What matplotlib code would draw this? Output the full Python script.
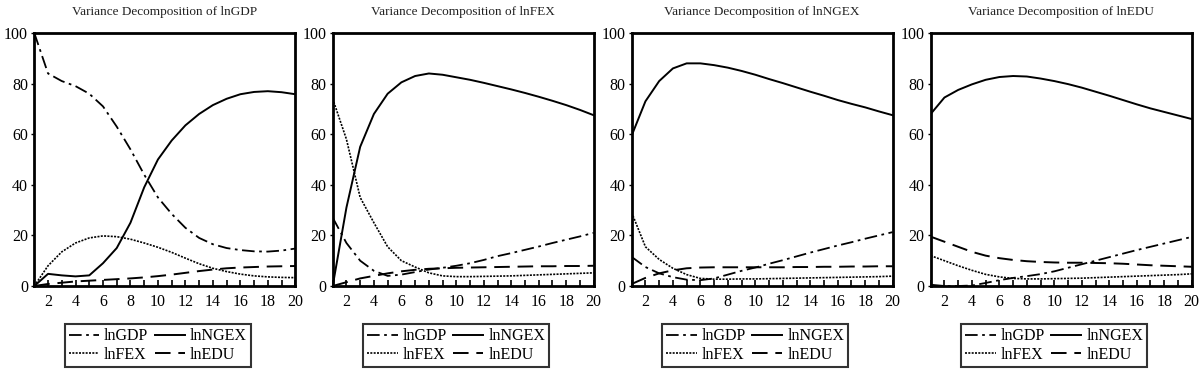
import matplotlib
matplotlib.use("Agg")
import matplotlib.pyplot as plt
from matplotlib.ticker import MultipleLocator

plt.rcParams['font.family'] = ['Liberation Serif', 'DejaVu Serif']

periods = list(range(1, 21))
series_names = ["lnGDP", "lnNGEX", "lnFEX", "lnEDU"]
panel_titles = ["Variance Decomposition of lnGDP", "Variance Decomposition of lnFEX",
                "Variance Decomposition of lnNGEX", "Variance Decomposition of lnEDU"]

# Panel 1: lnGDP
p1_gdp = [100, 84, 81, 79, 76, 71, 63, 54, 44, 35, 28.5, 23, 19, 16.5, 15, 14.2, 13.7, 13.6, 14, 14.8]
p1_ngex = [0, 4.8, 4.2, 3.8, 4.2, 9, 15, 25, 39, 50, 57.5, 63.5, 68, 71.5, 74, 75.8, 76.7, 77, 76.6, 75.8]
p1_fex = [0, 8, 13.5, 17, 19, 19.8, 19.5, 18.5, 17, 15.3, 13.3, 11, 8.8, 7, 5.7, 4.7, 4, 3.6, 3.4, 3.3]
p1_edu = [0, 0.8, 1.3, 1.8, 2.1, 2.4, 2.7, 3, 3.4, 3.9, 4.5, 5.2, 5.9, 6.5, 7, 7.3, 7.5, 7.7, 7.8, 7.9]

# Panel 2: lnFEX
p2_gdp = [27, 17, 10, 6, 4, 4.5, 5.5, 6.5, 7.2, 8, 9, 10.3, 11.8, 13, 14.3, 15.6, 17, 18.3, 19.6, 21]
p2_ngex = [0, 31, 55, 68, 76, 80.5, 83, 84, 83.5, 82.5, 81.5, 80.3, 79, 77.7, 76.3, 74.8, 73.2, 71.5, 69.6, 67.5]
p2_fex = [74, 58, 35, 25, 15.5, 10, 7.5, 5.2, 4, 3.7, 3.7, 3.8, 3.9, 4, 4.2, 4.4, 4.6, 4.8, 5, 5.2]
p2_edu = [0, 1.5, 3, 4, 5, 5.8, 6.4, 6.8, 7, 7.2, 7.3, 7.4, 7.5, 7.6, 7.7, 7.8, 7.8, 7.9, 7.9, 8]

# Panel 3: lnNGEX
p3_gdp = [11.5, 7.5, 5, 3.5, 2.5, 2.3, 3, 4.5, 6, 7.3, 8.8, 10.2, 11.7, 13.2, 14.6, 16, 17.3, 18.7, 20, 21.3]
p3_ngex = [59.5, 73, 81, 86, 88, 88, 87.3, 86.3, 85, 83.5, 81.8, 80.2, 78.5, 76.8, 75.2, 73.5, 72, 70.6, 69, 67.5]
p3_fex = [29, 15.5, 10.5, 7, 4.5, 3, 2.7, 2.7, 2.8, 2.8, 2.9, 3, 3.1, 3.2, 3.3, 3.4, 3.5, 3.6, 3.7, 3.9]
p3_edu = [0.8, 3.2, 5, 6.2, 7, 7.3, 7.4, 7.4, 7.4, 7.4, 7.4, 7.4, 7.5, 7.5, 7.6, 7.6, 7.7, 7.7, 7.8, 7.8]

# Panel 4: lnEDU
p4_gdp = [0.5, 0, 0, 0.2, 1.2, 2.3, 3.2, 3.9, 4.7, 5.8, 7.2, 8.6, 10, 11.4, 12.8, 14.2, 15.5, 16.8, 18.1, 19.4]
p4_ngex = [68, 74.5, 77.5, 79.7, 81.5, 82.6, 83, 82.8, 82, 81, 79.8, 78.4, 76.8, 75.2, 73.5, 71.8, 70.2, 68.8, 67.4, 66]
p4_fex = [12, 10, 8, 6.2, 4.6, 3.6, 3, 2.8, 2.8, 2.9, 3, 3.1, 3.3, 3.5, 3.7, 3.9, 4.1, 4.3, 4.5, 4.8]
p4_edu = [19.5, 17.5, 15.5, 13.5, 12, 11, 10.3, 9.8, 9.5, 9.3, 9.2, 9.2, 9.1, 9, 8.8, 8.5, 8.2, 8, 7.8, 7.6]

panels = [
    (p1_gdp, p1_ngex, p1_fex, p1_edu),
    (p2_gdp, p2_ngex, p2_fex, p2_edu),
    (p3_gdp, p3_ngex, p3_fex, p3_edu),
    (p4_gdp, p4_ngex, p4_fex, p4_edu),
]

styles = {
    "lnGDP": dict(linestyle=(0, (7, 2.5, 1.5, 2.5)), linewidth=1.3),
    "lnNGEX": dict(linestyle='-', linewidth=1.4),
    "lnFEX": dict(linestyle=(0, (1.2, 0.8)), linewidth=1.2),
    "lnEDU": dict(linestyle=(0, (8, 4)), linewidth=1.4),
}

fig = plt.figure(figsize=(12, 3.71), dpi=100)
lefts = [34.3, 332.7, 631.7, 930.7]
W, H = 1200.0, 371.0
for i, (left, data, title) in enumerate(zip(lefts, panels, panel_titles)):
    ax = fig.add_axes([left / W, (H - 286) / H, 261 / W, 253 / H])
    gdp, ngex, fex, edu = data
    handles = {}
    for name, vals in zip(series_names, [gdp, ngex, fex, edu]):
        (h,) = ax.plot(periods, vals, color='black', label=name, **styles[name])
        handles[name] = h
    ax.set_xlim(1, 20)
    ax.set_ylim(0, 100)
    ax.xaxis.set_major_locator(MultipleLocator(2))
    ax.xaxis.set_minor_locator(MultipleLocator(1))
    ax.yaxis.set_major_locator(MultipleLocator(20))
    ax.tick_params(axis='x', which='both', direction='in', length=4, width=1.2,
                   labelsize=11.5, pad=6)
    ax.tick_params(axis='y', which='both', direction='out', length=2.5, width=1,
                   labelsize=11.5, pad=2)
    for sp in ax.spines.values():
        sp.set_linewidth(2)
    ax.set_title(title, fontsize=9.5, color='#222222', pad=13)
    leg = ax.legend([handles["lnGDP"], handles["lnFEX"], handles["lnNGEX"], handles["lnEDU"]],
                    ["lnGDP", "lnFEX", "lnNGEX", "lnEDU"],
                    ncol=2, loc='upper center', bbox_to_anchor=(0.473, -0.12),
                    frameon=True, fancybox=False, edgecolor='black', fontsize=11.5,
                    handlelength=1.9, handletextpad=0.3, columnspacing=0.4,
                    labelspacing=0.15, borderpad=0.25)
    leg.get_frame().set_linewidth(1.5)

fig.savefig("out.png", dpi=100)
